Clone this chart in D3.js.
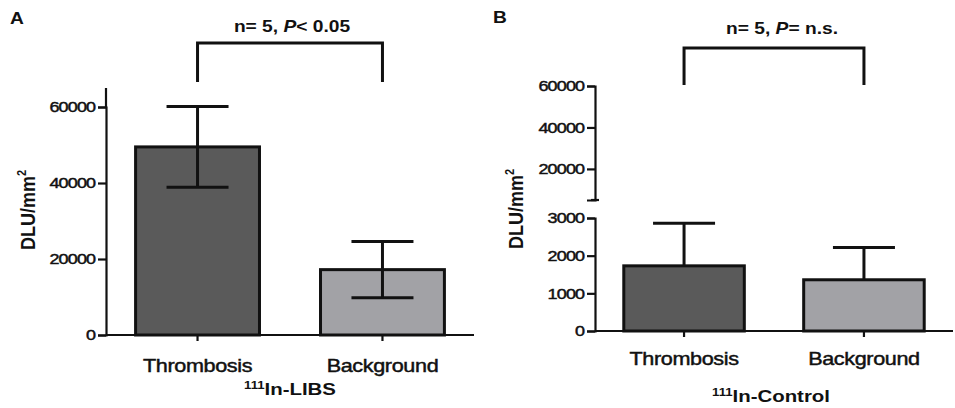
<!DOCTYPE html>
<html lang="en">
<head>
<script src="https://d3js.org/d3.v7.min.js"></script>
<style>
  body { margin: 0; background: #fff; }
  text { font-family: "Liberation Sans", Arial, sans-serif; fill: #111; }
  .heavy { stroke: #111; stroke-width: 0.45px; }
</style>
</head>
<body>
<script>
// data
var categories = ["Thrombosis", "Background"];
var libsMean = [49500, 17200];
var libsErr = [10600, 7400];
var ctrlMean = [1730, 1360];
var ctrlErr = [1130, 860];
var libsTicks = [0, 20000, 40000, 60000];
var ctrlTicksLow = [0, 1000, 2000, 3000];
var ctrlTicksHigh = [20000, 40000, 60000];
var barColors = ["#5a5a5a", "#a2a2a6"];

var W = 955, H = 408;
var sx = 1.2; // source picture is stretched horizontally

var svg = d3.select("body").append("svg")
  .attr("width", W)
  .attr("height", H);

// text helper, stretched like the source
function txt(g, x, y, s, size, weight, anchor) {
  return g.append("text")
    .attr("transform", "translate(" + x + "," + y + ") scale(" + sx + ",1)")
    .attr("text-anchor", anchor || "middle")
    .style("font-size", size + "px")
    .style("font-weight", weight || "normal")
    .text(s);
}

function styleAxis(g) {
  g.select(".domain").attr("stroke", "#111").attr("stroke-width", 2.2);
  g.selectAll(".tick line").attr("stroke", "#111").attr("stroke-width", 2.2);
  g.selectAll(".tick text")
    .attr("class", "heavy")
    .style("font-size", "15px")
    .style("letter-spacing", "-0.7px")
    .attr("fill", "#111")
    .attr("transform", "scale(" + sx + ",1)");
}

function drawBars(g, x, y, mean, err, lower) {
  var bw = x.bandwidth();
  g.selectAll("rect.bar")
    .data(categories)
    .enter().append("rect")
    .attr("class", "bar")
    .attr("x", function (d) { return x(d); })
    .attr("width", bw)
    .attr("y", function (d, i) { return y(mean[i]); })
    .attr("height", function (d, i) { return y(0) - y(mean[i]); })
    .attr("fill", function (d, i) { return barColors[i]; })
    .attr("stroke", "#111")
    .attr("stroke-width", 3);

  var cap = 31;
  categories.forEach(function (d, i) {
    var cx = x(d) + bw / 2;
    var lo = lower ? mean[i] - err[i] : mean[i];
    var hi = mean[i] + err[i];
    g.append("line").attr("x1", cx).attr("x2", cx)
      .attr("y1", y(lo)).attr("y2", y(hi))
      .attr("stroke", "#111").attr("stroke-width", 3);
    g.append("line").attr("x1", cx - cap).attr("x2", cx + cap)
      .attr("y1", y(hi)).attr("y2", y(hi))
      .attr("stroke", "#111").attr("stroke-width", 3);
    if (lower) {
      g.append("line").attr("x1", cx - cap).attr("x2", cx + cap)
        .attr("y1", y(lo)).attr("y2", y(lo))
        .attr("stroke", "#111").attr("stroke-width", 3);
    }
  });
}

function bracket(g, x1, x2, top, bottom) {
  g.append("path")
    .attr("d", "M" + x1 + "," + bottom + "V" + top + "H" + x2 + "V" + bottom)
    .attr("fill", "none")
    .attr("stroke", "#111")
    .attr("stroke-width", 3);
}

function yLabel(g, x, y) {
  var t = g.append("text")
    .attr("transform", "translate(" + x + "," + y + ") rotate(-90) scale(1,1.15)")
    .attr("text-anchor", "middle")
    .style("font-size", "18px").style("font-weight", "bold");
  t.append("tspan").text("DLU/mm");
  t.append("tspan").text("2").style("font-size", "11px").attr("dy", "-8");
}

var fmt = d3.format("d");

// ---------- panel A ----------
var a = svg.append("g");
var axL = 106, axR = 474;
var xA = d3.scaleBand().domain(categories).range([axL, axR]).paddingInner(0.33).paddingOuter(0.16);
var yA = d3.scaleLinear().domain([0, 60000]).range([335, 107]);

drawBars(a, xA, yA, libsMean, libsErr, true);

var yAxA = a.append("g").attr("transform", "translate(" + axL + ",0)")
  .call(d3.axisLeft(yA).tickValues(libsTicks).tickFormat(fmt).tickSizeOuter(0).tickSize(8).tickPadding(1));
styleAxis(yAxA);
// axis line runs a bit above the top tick
a.append("line").attr("x1", axL).attr("x2", axL)
  .attr("y1", 88).attr("y2", yA(60000))
  .attr("stroke", "#111").attr("stroke-width", 2.2);

var xAxA = a.append("g").attr("transform", "translate(0," + yA(0) + ")")
  .call(d3.axisBottom(xA).tickSizeOuter(0).tickSize(6).tickFormat(""));
xAxA.select(".domain").attr("d", "M" + axL + ",0H" + axR)
  .attr("stroke", "#111").attr("stroke-width", 2.2);
xAxA.selectAll(".tick line").attr("stroke", "#111").attr("stroke-width", 2.2);

categories.forEach(function (d) {
  txt(a, xA(d) + xA.bandwidth() / 2, 372, d, 18, "normal")
    .attr("class", "heavy").style("letter-spacing", "-0.3px");
});
var tA = txt(a, (axL + axR) / 2, 395, "", 17, "bold");
tA.append("tspan").text("111").style("font-size", "11px").attr("dy", "-6");
tA.append("tspan").text("In-LIBS").attr("dy", "6");

yLabel(a, 35, 210);

bracket(a, xA(categories[0]) + xA.bandwidth() / 2, xA(categories[1]) + xA.bandwidth() / 2, 43, 82);
var nA = txt(a, 292, 32, "", 16, "bold");
nA.append("tspan").text("n= 5, ");
nA.append("tspan").text("P").style("font-style", "italic");
nA.append("tspan").text("< 0.05");

txt(a, 10, 24, "A", 16, "bold", "start");

// ---------- panel B ----------
var b = svg.append("g");
var bxL = 595, bxR = 953;
var xB = d3.scaleBand().domain(categories).range([bxL, bxR]).paddingInner(0.33).paddingOuter(0.16);
var yLow = d3.scaleLinear().domain([0, 3000]).range([331, 218]);
var yHigh = d3.scaleLinear().domain([5000, 60000]).range([200, 86]);

drawBars(b, xB, yLow, ctrlMean, ctrlErr, false);

var gLow = b.append("g").attr("transform", "translate(" + bxL + ",0)")
  .call(d3.axisLeft(yLow).tickValues(ctrlTicksLow).tickFormat(fmt).tickSizeOuter(0).tickSize(8).tickPadding(1));
styleAxis(gLow);
var gHigh = b.append("g").attr("transform", "translate(" + bxL + ",0)")
  .call(d3.axisLeft(yHigh).tickValues(ctrlTicksHigh).tickFormat(fmt).tickSizeOuter(0).tickSize(8).tickPadding(1));
styleAxis(gHigh);
// small end cap where the axis breaks
b.append("line").attr("x1", bxL - 4).attr("x2", bxL + 4)
  .attr("y1", yHigh(5000)).attr("y2", yHigh(5000))
  .attr("stroke", "#111").attr("stroke-width", 2.2);

var xAxB = b.append("g").attr("transform", "translate(0," + yLow(0) + ")")
  .call(d3.axisBottom(xB).tickSizeOuter(0).tickSize(6).tickFormat(""));
xAxB.select(".domain").attr("d", "M" + bxL + ",0H" + bxR)
  .attr("stroke", "#111").attr("stroke-width", 2.2);
xAxB.selectAll(".tick line").attr("stroke", "#111").attr("stroke-width", 2.2);

categories.forEach(function (d) {
  txt(b, xB(d) + xB.bandwidth() / 2, 365, d, 18, "normal")
    .attr("class", "heavy").style("letter-spacing", "-0.3px");
});
var tB = txt(b, (bxL + bxR) / 2 - 3, 402, "", 17, "bold");
tB.append("tspan").text("111").style("font-size", "11px").attr("dy", "-6");
tB.append("tspan").text("In-Control").attr("dy", "6");

yLabel(b, 523, 209);

bracket(b, xB(categories[0]) + xB.bandwidth() / 2, xB(categories[1]) + xB.bandwidth() / 2, 48, 85);
var nB = txt(b, 782, 34, "", 16, "bold");
nB.append("tspan").text("n= 5, ");
nB.append("tspan").text("P").style("font-style", "italic");
nB.append("tspan").text("= n.s.");

txt(b, 493, 23, "B", 16, "bold", "start");
</script>
</body>
</html>
